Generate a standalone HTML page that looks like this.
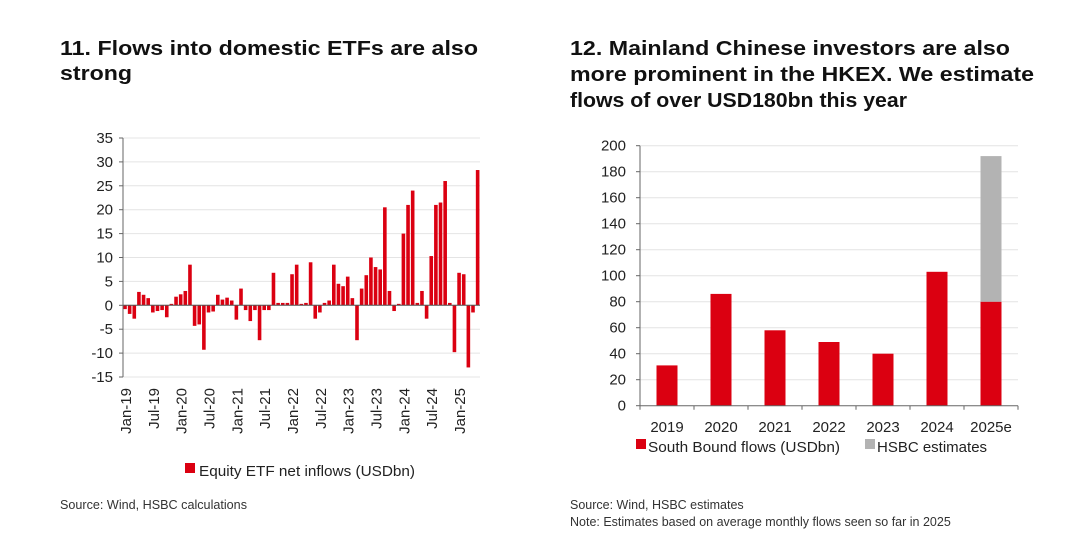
<!DOCTYPE html>
<html><head><meta charset="utf-8"><style>
body{margin:0;background:#fff;font-family:"Liberation Sans",Arial,sans-serif;}
svg text{font-family:"Liberation Sans",Arial,sans-serif;}
</style></head><body>
<svg id="s" width="1067" height="553" xmlns="http://www.w3.org/2000/svg">
<g font-size="20" font-weight="bold" fill="#111">
<text x="60" y="55" textLength="418" lengthAdjust="spacingAndGlyphs">11. Flows into domestic ETFs are also</text>
<text x="60" y="80" textLength="72" lengthAdjust="spacingAndGlyphs">strong</text></g>
<g font-size="20" font-weight="bold" fill="#111">
<text x="570" y="55" textLength="440" lengthAdjust="spacingAndGlyphs">12. Mainland Chinese investors are also</text>
<text x="570" y="81" textLength="464" lengthAdjust="spacingAndGlyphs">more prominent in the HKEX. We estimate</text>
<text x="570" y="107" textLength="337" lengthAdjust="spacingAndGlyphs">flows of over USD180bn this year</text></g>
<g id="L"></g><g id="R"></g>
<rect x="185" y="463" width="10" height="10" fill="#db0011"/>
<text x="199" y="476" font-size="15" textLength="216" lengthAdjust="spacingAndGlyphs" fill="#222">Equity ETF net inflows (USDbn)</text>
<text x="60" y="509" font-size="12.5" textLength="187" lengthAdjust="spacingAndGlyphs" fill="#333">Source: Wind, HSBC calculations</text>
<rect x="636" y="439" width="10" height="10" fill="#db0011"/>
<text x="648" y="452" font-size="15" textLength="192" lengthAdjust="spacingAndGlyphs" fill="#222">South Bound flows (USDbn)</text>
<rect x="865" y="439" width="10" height="10" fill="#b3b3b3"/>
<text x="877" y="452" font-size="15" fill="#222">HSBC estimates</text>
<text x="570" y="509" font-size="12.5" fill="#333">Source: Wind, HSBC estimates</text>
<text x="570" y="526" font-size="12.5" fill="#333">Note: Estimates based on average monthly flows seen so far in 2025</text>
</svg>
<script>
const etfValues=[-0.8,-1.8,-2.8,2.8,2.2,1.5,-1.5,-1.2,-1,-2.5,0.3,1.8,2.3,3,8.5,-4.3,-4,-9.3,-1.5,-1.3,2.2,1.2,1.6,1,-3,3.5,-1,-3.3,-1,-7.3,-1,-1,
6.8,0.5,0.5,0.5,6.5,8.5,0.3,0.5,9,-2.8,-1.5,0.5,1,8.5,4.5,4,6,1.5,-7.3,3.5,6.3,10,8,7.5,20.5,3,-1.2,0.3,15,21,24,0.5,3,-2.8,10.3,21,21.5,26,0.5,-9.8,6.8,6.5,-13,-1.5,28.3];
const etfTicks=[-15,-10,-5,0,5,10,15,20,25,30,35];
const monthLabels=["Jan-19","Jul-19","Jan-20","Jul-20","Jan-21","Jul-21","Jan-22","Jul-22","Jan-23","Jul-23","Jan-24","Jul-24","Jan-25"];
const years=["2019","2020","2021","2022","2023","2024","2025e"];
const southbound=[31,86,58,49,40,103,80];
const estimates=[0,0,0,0,0,0,112];
const sbTicks=[0,20,40,60,80,100,120,140,160,180,200];
const NS="http://www.w3.org/2000/svg";
function mk(p,t,a){const e=document.createElementNS(NS,t);for(const k in a)e.setAttribute(k,a[k]);p.appendChild(e);return e;}
const L=document.getElementById('L');
const lx0=123,lx1=480,yTop=138,yBot=377;
const ly=v=>yBot-(v+15)/50*(yBot-yTop);
const pitch=4.64, bx=i=>125+i*pitch;
etfTicks.forEach(t=>{
 const g=mk(L,'line',{x1:lx0,x2:lx1,y1:ly(t),y2:ly(t),stroke:'#e4e4e4'});
 
 const tx=mk(L,'text',{x:113,y:ly(t)+5,'text-anchor':'end','font-size':15,fill:'#222'});tx.textContent=t;
 
 mk(L,'line',{x1:lx0-4,x2:lx0,y1:ly(t),y2:ly(t),stroke:'#666'});
});
etfValues.forEach((v,i)=>{
 const y=Math.min(ly(v),ly(0)),h=Math.abs(ly(v)-ly(0));
 const r=mk(L,'rect',{x:bx(i)-1.8,y:y,width:3.6,height:Math.max(h,0.5),fill:'#db0011'});
 
});
mk(L,'line',{x1:lx0,x2:lx1,y1:ly(0),y2:ly(0),stroke:'#555'});
mk(L,'line',{x1:lx0,x2:lx0,y1:yTop,y2:yBot,stroke:'#666'});
monthLabels.forEach((m,k)=>{
 const x=bx(k*6)+6;
 const t=mk(L,'text',{x:x,y:388,transform:`rotate(-90 ${x} 388)`,'text-anchor':'end','font-size':15,fill:'#222'});t.textContent=m;
 
});
const R=document.getElementById('R');
const rx0=640,rx1=1018,r0=405.7,r200=145.7;
const ry=v=>r0-v/200*(r0-r200);
const cw=(rx1-rx0)/years.length;
sbTicks.forEach(t=>{
 if(t>0){const g=mk(R,'line',{x1:rx0,x2:rx1,y1:ry(t),y2:ry(t),stroke:'#e4e4e4'});
 }
 mk(R,'line',{x1:rx0-4,x2:rx0,y1:ry(t),y2:ry(t),stroke:'#666'});
 const tx=mk(R,'text',{x:626,y:ry(t)+5,'text-anchor':'end','font-size':15,fill:'#222'});tx.textContent=t;
 
});
years.forEach((y,i)=>{
 const cx=rx0+cw*(i+0.5);
 const b=mk(R,'rect',{x:cx-10.5,y:ry(southbound[i]),width:21,height:r0-ry(southbound[i]),fill:'#db0011'});
 
 if(estimates[i]>0){const e=mk(R,'rect',{x:cx-10.5,y:ry(southbound[i]+estimates[i]),width:21,height:ry(southbound[i])-ry(southbound[i]+estimates[i]),fill:'#b3b3b3'});
 }
 const t=mk(R,'text',{x:cx,y:432,'text-anchor':'middle','font-size':15,fill:'#222'});t.textContent=y;
 
 mk(R,'line',{x1:rx0+cw*(i+1),x2:rx0+cw*(i+1),y1:r0,y2:r0+4,stroke:'#666'});
});
mk(R,'line',{x1:rx0,x2:rx1,y1:r0,y2:r0,stroke:'#666'});
mk(R,'line',{x1:rx0,x2:rx0,y1:r200,y2:r0+4,stroke:'#666'});
</script>
</body></html>
